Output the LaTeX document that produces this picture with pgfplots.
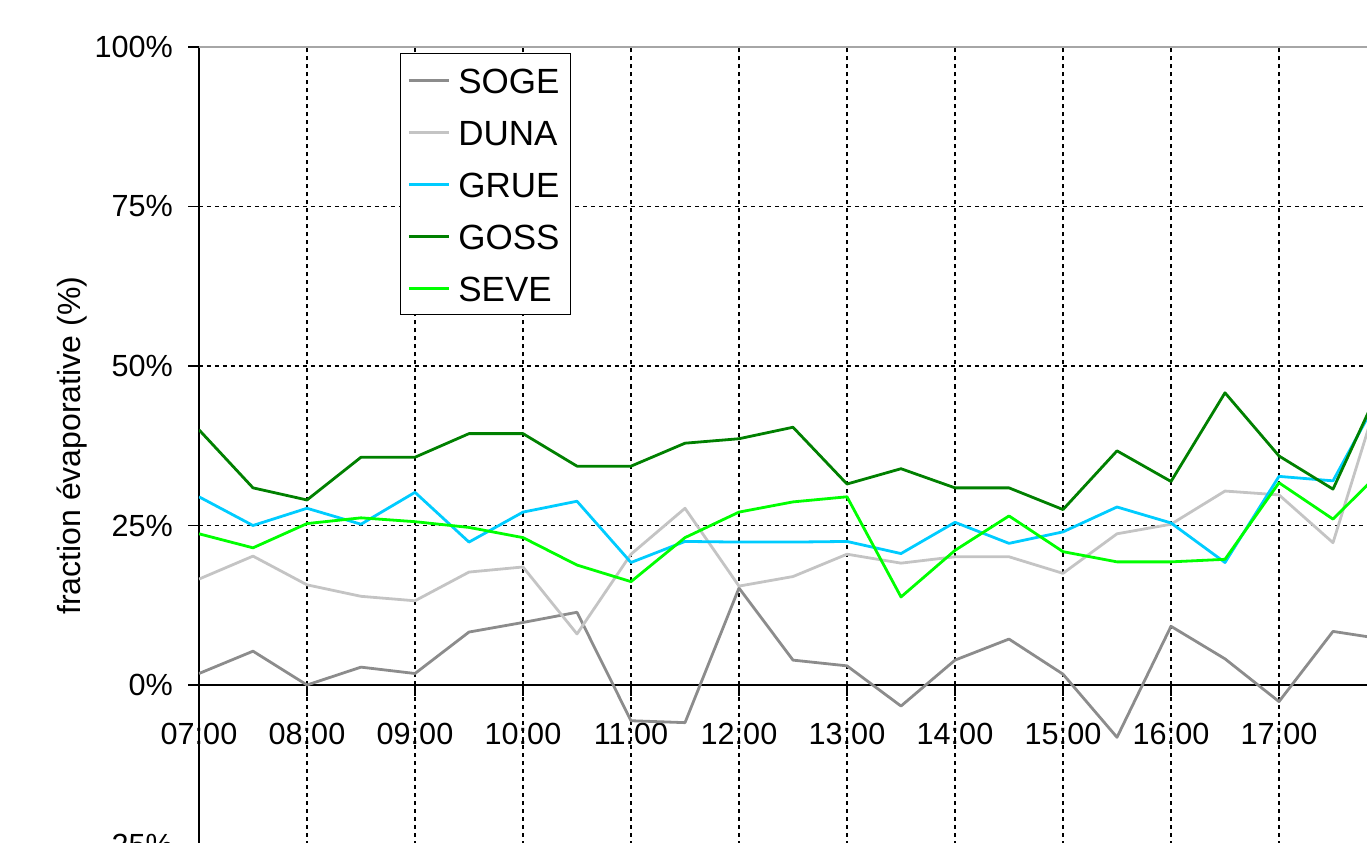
\documentclass[border=0pt]{standalone}
\usepackage{pgfplots}
\pgfplotsset{compat=1.18}
\usepackage{pgfplotstable}
\usepackage{fontspec}
\setmainfont{Liberation Sans}
\definecolor{soge}{HTML}{8C8C8C}
\definecolor{duna}{HTML}{C4C4C4}
\definecolor{grue}{HTML}{00CCFF}
\definecolor{goss}{HTML}{008000}
\definecolor{seve}{HTML}{00FF00}
\pgfplotstableread{
t soge duna grue goss seve
7.0 1.8 16.6 29.5 40.0 23.7
7.5 5.3 20.2 25.0 30.9 21.5
8.0 0.0 15.7 27.7 29.0 25.3
8.5 2.8 13.9 25.2 35.7 26.2
9.0 1.8 13.2 30.2 35.7 25.6
9.5 8.3 17.7 22.4 39.4 24.7
10.0 9.8 18.5 27.1 39.4 23.1
10.5 11.4 8.0 28.8 34.3 18.8
11.0 -5.6 20.5 19.2 34.3 16.2
11.5 -5.9 27.7 22.5 37.9 23.1
12.0 15.2 15.5 22.4 38.6 27.1
12.5 3.9 17.0 22.4 40.4 28.7
13.0 3.0 20.5 22.5 31.5 29.5
13.5 -3.3 19.1 20.6 33.9 13.8
14.0 3.9 20.1 25.5 30.9 21.1
14.5 7.2 20.1 22.2 30.9 26.5
15.0 1.7 17.5 24.0 27.5 20.9
15.5 -8.2 23.7 27.9 36.7 19.3
16.0 9.2 25.2 25.4 31.9 19.3
16.5 4.1 30.4 19.2 45.8 19.7
17.0 -2.6 29.8 32.7 35.9 31.7
17.5 8.4 22.3 32.0 30.7 26.0
18.0 7.1 49.6 47.5 49.1 34.4
}\data
\begin{document}
\begin{tikzpicture}
\begin{axis}[
  x=54pt, y=3.19pt,
  xmin=7, xmax=19, ymin=-25, ymax=100,
  axis x line=middle, axis y line=left,
  axis line style={-, black, line width=0.7pt},
  hide obscured x ticks=false, hide obscured y ticks=false,
  tick align=outside, major tick length=5.5pt,
  tick style={black, line width=0.7pt},
  xtick={7,8,...,19},
  xticklabels={07:00,08:00,09:00,10:00,11:00,12:00,13:00,14:00,15:00,16:00,17:00,{},{}},
  ytick={-25,0,25,50,75,100},
  yticklabels={-25\%,0\%,25\%,50\%,75\%,100\%},
  ticklabel style={font=\fontsize{15.3}{18}\selectfont},
  xticklabel style={yshift=-10pt},
  yticklabel style={xshift=-4pt},
  /pgf/number format/assume math mode=true,
  grid=major,
  major grid style={black, line width=0.7pt, dash pattern=on 2pt off 2pt},
  ylabel={fraction évaporative (\%)},
  every axis y label/.style={at={(axis description cs:-0.098,0.5)}, anchor=center, rotate=90, font=\fontsize{16}{19}\selectfont},
  legend cell align=left,
  legend image code/.code={\draw[#1] (0pt,0pt) -- (20pt,0pt);},
  legend style={at={(axis description cs:0.155,0.9925)}, anchor=north west, draw=black, line width=0.7pt,
    font=\fontsize{17.5}{20}\selectfont, row sep=6.5pt, inner xsep=3.5pt, inner ysep=3.5pt,
    nodes={text height=14.5pt, text depth=1pt, inner ysep=2pt},
    /tikz/every odd column/.append style={column sep=2pt}},
  every axis plot/.append style={line width=1.4pt, line join=round},
]
\addplot[soge] table[x=t,y=soge] {\data};
\addplot[duna] table[x=t,y=duna] {\data};
\addplot[grue] table[x=t,y=grue] {\data};
\addplot[goss] table[x=t,y=goss] {\data};
\addplot[seve] table[x=t,y=seve] {\data};
\legend{SOGE,DUNA,GRUE,GOSS,SEVE}
\draw[gray!70, line width=1pt] (axis cs:7,100) -- (axis cs:19,100);
\coordinate (bl) at (axis cs:5.1574,-24.608);
\coordinate (tr) at (axis cs:17.8148,107.367);
\end{axis}
\pgfresetboundingbox
\useasboundingbox (bl) rectangle (tr);
\end{tikzpicture}
\end{document}
